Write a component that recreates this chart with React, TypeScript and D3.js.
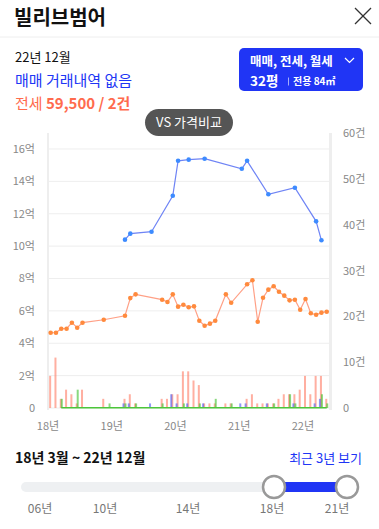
import React from "react";
import * as d3 from "d3";

// ---- data (x = month slot index on the chart) ----
const yearTickSlots = [0, 12, 24, 36, 48];
const yearTickLabels = ["18년", "19년", "20년", "21년", "22년"];

const saleMonths = [14, 15, 19, 23, 24, 26, 29, 36, 37, 41, 46, 50, 51];
const salePrices = [10.4, 10.77, 10.89, 13.11, 15.27, 15.34, 15.4, 14.78, 15.27, 13.2, 13.61, 11.53, 10.36];
const saleCounts = [1, 1, 1, 3, 1, 1, 1, 1, 1, 1, 1, 1, 2];

const jeonseMonths = [0, 1, 2, 3, 4, 5, 6, 10, 14, 15, 16, 21, 22, 23, 24, 25, 26, 27, 28, 29, 30, 31, 33, 34, 37, 38, 39, 40, 41, 42, 43, 44, 45, 46, 47, 48, 49, 50, 51, 52];
const jeonsePrices = [4.65, 4.65, 4.9, 4.9, 5.27, 4.96, 5.27, 5.45, 5.7, 6.79, 7.02, 6.69, 6.55, 7.02, 6.26, 6.38, 6.22, 6.28, 5.39, 5.08, 5.21, 5.39, 7.02, 6.5, 7.64, 7.89, 5.33, 6.81, 7.31, 7.52, 7.18, 6.94, 6.65, 6.69, 6.07, 6.73, 5.85, 5.76, 5.89, 5.95];
const jeonseCounts = [7, 11, 2, 4, 3, 1, 4, 2, 2, 3, 1, 2, 2, 3, 3, 8, 8, 6, 5, 1, 1, 1, 1, 1, 2, 3, 1, 1, 1, 1, 2, 3, 3, 3, 4, 7, 3, 7, 7, 2];

const rentMonths = [2, 5, 11, 14, 16, 21, 25, 28, 31, 34, 42, 45, 46, 51, 52];
const rentPrices = [0.02, 0.02, 0.02, 0.02, 0.02, 0.02, 0.02, 0.02, 0.02, 0.02, 0.02, 0.02, 0.02, 0.02, 0.02];
const rentCounts = [2, 4, 1, 1, 1, 1, 1, 1, 2, 1, 1, 3, 1, 3, 1];

const leftTicks = [0, 2, 4, 6, 8, 10, 12, 14, 16];
const rightTicks = [0, 10, 20, 30, 40, 50, 60];

const sliderLabels = ["06년", "10년", "14년", "18년", "21년"];
const sliderLabelX = [40, 105, 188, 272, 337];

const FONT = "'Noto Sans CJK KR', 'Noto Sans', sans-serif";
const BLUE = "#2035f5";
const ORANGE = "#ff6b4d";

export default function App() {
  const x = d3.scaleLinear().domain([0, 53]).range([48, 329.4]);
  const yL = d3.scaleLinear().domain([0, 17]).range([408, 132.8]);
  const yR = d3.scaleLinear().domain([0, 60]).range([408, 133]);
  const cx = (m: number) => x(m + 0.5);

  const saleData = saleMonths.map((m, i) => ({ m, v: salePrices[i] }));
  const jeonseData = jeonseMonths.map((m, i) => ({ m, v: jeonsePrices[i] }));
  const rentData = rentMonths.map((m, i) => ({ m, v: rentPrices[i] }));

  const line = d3
    .line<{ m: number; v: number }>()
    .x((d) => cx(d.m))
    .y((d) => yL(d.v));

  const bars = (months: number[], counts: number[], off: number, color: string, key: string) =>
    months.map((m, i) => (
      <rect
        key={key + i}
        x={cx(m) + off}
        y={yR(counts[i])}
        width={2}
        height={yR(0) - yR(counts[i])}
        fill={color}
        opacity={0.6}
      />
    ));

  return (
    <div style={{ position: "absolute", left: 0, top: 0 }}>
      <svg width={379} height={529} style={{ display: "block", fontFamily: FONT }}>
        <rect width={379} height={529} fill="#fff" />
        {/* header */}
        <text x={14} y={25} fontSize={20} fontWeight={700} fill="#111">빌리브범어</text>
        <line x1={355} y1={8} x2={371} y2={24} stroke="#333" strokeWidth={1.3} />
        <line x1={371} y1={8} x2={355} y2={24} stroke="#333" strokeWidth={1.3} />
        <line x1={0} y1={37} x2={379} y2={37} stroke="#eee" strokeWidth={1} />

        <text x={15} y={62} fontSize={13} fill="#111">22년 12월</text>
        <text x={15} y={86} fontSize={15} fill={BLUE}>매매 거래내역 없음</text>
        <text x={15} y={109} fontSize={15} fill={ORANGE}>
          전세 <tspan fontWeight={700}>59,500 / 2건</tspan>
        </text>

        <rect x={239} y={48} width={124} height={43} rx={5} fill={BLUE} />
        <text x={250} y={65.5} fontSize={12.5} fontWeight={700} fill="#fff">매매, 전세, 월세</text>
        <polyline points="345,58 349.5,62.5 354,58" fill="none" stroke="#fff" strokeWidth={1.2} />
        <text x={250} y={86} fontSize={13.5} fontWeight={700} fill="#fff">32평</text>
        <line x1={288.5} y1={77.5} x2={288.5} y2={85.5} stroke="#fff" strokeOpacity={0.6} strokeWidth={1} />
        <text x={293} y={85} fontSize={10} fontWeight={700} fill="#fff">전용 84㎡</text>

        {/* chart grid & axes */}
        {leftTicks.map((t) => (
          <g key={"l" + t}>
            <line x1={48} x2={329} y1={yL(t)} y2={yL(t)} stroke="#eeeeee" strokeWidth={1} />
            <text x={35} y={yL(t) + 4} fontSize={11} fill="#888" textAnchor="end">
              {t === 0 ? "0" : `${t}억`}
            </text>
          </g>
        ))}
        {rightTicks.map((t) => (
          <text key={"r" + t} x={343} y={yR(t) + 4} fontSize={11} fill="#888">
            {t === 0 ? "0" : `${t}건`}
          </text>
        ))}
        <line x1={48} x2={48} y1={133} y2={410} stroke="#eeeeee" strokeWidth={2} />
        <line x1={330.5} x2={330.5} y1={133} y2={410} stroke="#eeeeee" strokeWidth={3} />
        {yearTickSlots.map((s, i) => (
          <text key={"x" + s} x={x(s)} y={430} fontSize={11} fill="#888" textAnchor="middle">
            {yearTickLabels[i]}
          </text>
        ))}

        {/* bars */}
        {bars(jeonseMonths, jeonseCounts, -1.5, "#ff7a62", "j")}
        {bars(saleMonths, saleCounts, -2.5, "#4455f0", "s")}
        {bars(rentMonths, rentCounts, -0.5, "#3cbf2a", "w")}

        {/* rent line near zero */}
        <path d={line(rentData) || ""} fill="none" stroke="#4cc63a" strokeWidth={1.6} />

        {/* jeonse line */}
        <path d={line(jeonseData) || ""} fill="none" stroke="#ffa086" strokeWidth={1.2} />
        {jeonseData.map((d, i) => (
          <circle key={"jc" + i} cx={cx(d.m)} cy={yL(d.v)} r={2.3} fill="#ff8a3d" />
        ))}

        {/* sale line */}
        <path d={line(saleData) || ""} fill="none" stroke="#6f84f5" strokeWidth={1.2} />
        {saleData.map((d, i) => (
          <circle key={"sc" + i} cx={cx(d.m)} cy={yL(d.v)} r={2.3} fill="#3d8bff" />
        ))}

        {/* VS pill */}
        <rect x={145} y={109} width={88} height={27} rx={13.5} fill="#555" />
        <text x={189} y={127} fontSize={13} fill="#fff" textAnchor="middle">VS 가격비교</text>

        {/* range */}
        <text x={15} y={463} fontSize={14} fontWeight={700} fill="#111">18년 3월 ~ 22년 12월</text>
        <text x={362} y={463} fontSize={13} fill={BLUE} textAnchor="end">최근 3년 보기</text>

        <rect x={21} y={482} width={330} height={10} rx={5} fill="#eef0f2" />
        <rect x={274} y={482} width={73} height={10} fill={BLUE} />
        <circle cx={274} cy={487} r={11} fill="#fff" stroke="#999" strokeWidth={2.5} />
        <circle cx={347} cy={487} r={11} fill="#fff" stroke="#999" strokeWidth={2.5} />
        {sliderLabels.map((l, i) => (
          <text key={l} x={sliderLabelX[i]} y={513} fontSize={12} fill="#777" textAnchor="middle">
            {l}
          </text>
        ))}
      </svg>
    </div>
  );
}
